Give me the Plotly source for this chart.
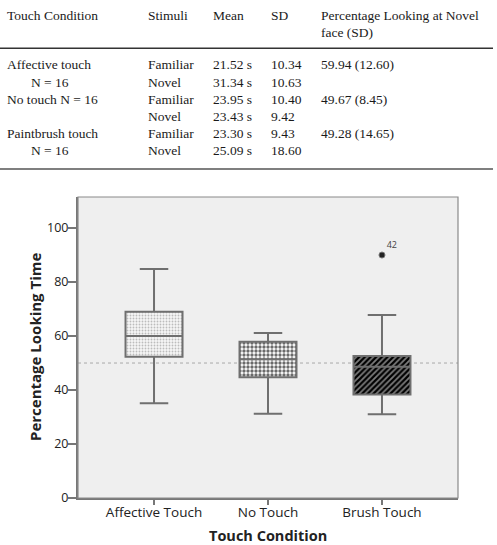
import plotly.graph_objects as go

# ---------------- table data ----------------
header_cols = ["Touch Condition", "Stimuli", "Mean", "SD", "Percentage Looking at Novel"]
header_line2 = "face (SD)"
cond_lines = ["Affective touch", "N = 16", "No touch N = 16", "", "Paintbrush touch", "N = 16"]
cond_indent = [False, True, False, False, False, True]
stimuli = ["Familiar", "Novel", "Familiar", "Novel", "Familiar", "Novel"]
means = ["21.52 s", "31.34 s", "23.95 s", "23.43 s", "23.30 s", "25.09 s"]
sds = ["10.34", "10.63", "10.40", "9.42", "9.43", "18.60"]
pct_novel = ["59.94 (12.60)", "", "49.67 (8.45)", "", "49.28 (14.65)", ""]

# ---------------- box plot data ----------------
categories = ["Affective Touch", "No Touch", "Brush Touch"]
q1 = [52.3, 44.7, 38.3]
median = [60.0, 51.4, 48.6]
q3 = [69.0, 57.9, 52.6]
lowerfence = [35.1, 31.2, 31.0]
upperfence = [84.8, 61.1, 67.8]
outlier_cat = ["Brush Touch"]
outlier_val = [90.0]
outlier_label = ["42"]
ref_value = 50

W, H = 497, 545
def px(x):
    return x / W
def py(y):
    return 1 - y / H

fig = go.Figure()

# patterned box bodies (one trace per box so each gets its own pattern)
pat_shape = [".", ".", "/"]
pat_bg = ["#f6f6f6", "#ffffff", "#7c7c7c"]
pat_fg = ["#bcbcbc", "#6a6a6a", "#000000"]
pat_size = [3, 4, 4]
pat_sol = [0.3, 0.55, 0.55]
for i, c in enumerate(categories):
    fig.add_trace(go.Bar(
        x=[c], y=[q3[i] - q1[i]], base=[q1[i]], width=0.5,
        marker=dict(
            color=pat_bg[i],
            line=dict(width=0),
            pattern=dict(shape=pat_shape[i], fgcolor=pat_fg[i], fgopacity=1,
                         size=pat_size[i], solidity=pat_sol[i], fillmode="overlay"),
        ),
        hoverinfo="skip", showlegend=False,
    ))

fig.add_trace(go.Box(
    x=categories, q1=q1, median=median, q3=q3,
    lowerfence=lowerfence, upperfence=upperfence,
    width=0.5, whiskerwidth=0.5,
    fillcolor="rgba(0,0,0,0)",
    line=dict(color="#6f6f6f", width=2),
    boxpoints=False, showlegend=False,
))

fig.add_trace(go.Scatter(
    x=outlier_cat, y=outlier_val, mode="markers+text",
    text=outlier_label, textposition="top right",
    textfont=dict(family="Open Sans", size=9, color="#444"),
    marker=dict(size=6, color="#222", line=dict(color="#777", width=1)),
    showlegend=False,
))

shapes = []
# reference line
shapes.append(dict(type="line", xref="paper", yref="y",
                   x0=px(78), x1=px(458), y0=ref_value, y1=ref_value,
                   line=dict(color="#a8a8a8", width=1, dash="dot"), layer="below"))
# frame
shapes.append(dict(type="rect", xref="paper", yref="paper",
                   x0=px(78), x1=px(458), y0=py(498), y1=py(197),
                   line=dict(color="#8a8a8a", width=1.2)))
# table rules
shapes.append(dict(type="line", xref="paper", yref="paper",
                   x0=0, x1=px(493), y0=py(48.3), y1=py(48.3),
                   line=dict(color="#333", width=1.4)))
shapes.append(dict(type="line", xref="paper", yref="paper",
                   x0=0, x1=px(493), y0=py(169), y1=py(169),
                   line=dict(color="#555", width=1.6)))

ann = []
tf = dict(family="Liberation Serif", size=13.5, color="#1a1a1a")
col_x = [5, 145.5, 210.5, 269, 319]
for cx, t in zip(col_x, header_cols):
    ann.append(dict(x=px(cx), y=py(15), text=t))
ann.append(dict(x=px(319), y=py(32.5), text=header_line2))
row_y = [65, 82, 99.5, 116.5, 133.5, 150.5]
for i, ry in enumerate(row_y):
    if cond_lines[i]:
        ann.append(dict(x=px(29 if cond_indent[i] else 5), y=py(ry), text=cond_lines[i]))
    ann.append(dict(x=px(col_x[1]), y=py(ry), text=stimuli[i]))
    ann.append(dict(x=px(col_x[2]), y=py(ry), text=means[i]))
    ann.append(dict(x=px(col_x[3]), y=py(ry), text=sds[i]))
    if pct_novel[i]:
        ann.append(dict(x=px(col_x[4]), y=py(ry), text=pct_novel[i]))
for a in ann:
    a.update(xref="paper", yref="paper", xanchor="left", yanchor="middle",
             showarrow=False, font=tf)

# axis titles
ann.append(dict(x=px(268), y=py(535), xref="paper", yref="paper", text="<b>Touch Condition</b>",
                showarrow=False, xanchor="center", yanchor="middle",
                font=dict(family="Open Sans", size=14.5, color="#222")))
ann.append(dict(x=px(35), y=py(347), xref="paper", yref="paper", text="<b>Percentage Looking Time</b>",
                showarrow=False, xanchor="center", yanchor="middle", textangle=-90,
                font=dict(family="Open Sans", size=15, color="#222")))

fig.update_layout(
    width=W, height=H, margin=dict(l=0, r=0, t=0, b=0),
    paper_bgcolor="white", plot_bgcolor="#efefef",
    barmode="overlay", shapes=shapes, annotations=ann,
    font=dict(family="Open Sans", size=12, color="#222"),
    xaxis=dict(domain=[px(78), px(458)], type="category",
               categoryorder="array", categoryarray=categories,
               range=[-0.667, 2.667], showgrid=False, zeroline=False,
               showline=True, linecolor="#777", linewidth=2,
               ticks="outside", ticklen=5, tickcolor="#777", tickwidth=1.5,
               ticklabelstandoff=-4,
               tickfont=dict(family="Open Sans", size=13.5, color="#222"),
               automargin=False),
    yaxis=dict(domain=[py(498), py(197)], range=[0, 111.5],
               tickvals=[0, 20, 40, 60, 80, 100], showgrid=False, zeroline=False,
               showline=True, linecolor="#777", linewidth=2,
               ticks="outside", ticklen=8, tickcolor="#777", tickwidth=1.5,
               ticklabelstandoff=-3,
               tickfont=dict(family="Open Sans", size=12.5, color="#222"),
               automargin=False),
)

fig.write_html("out.html")
